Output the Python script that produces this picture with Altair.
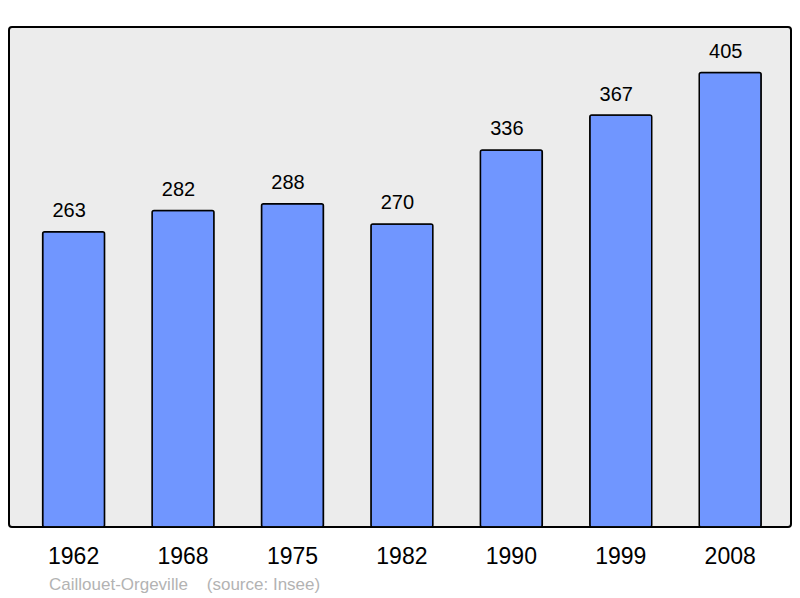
import altair as alt
import pandas as pd

years = ["1962", "1968", "1975", "1982", "1990", "1999", "2008"]
population = [263, 282, 288, 270, 336, 367, 405]
footer_text = "Caillouet-Orgeville\u00a0\u00a0\u00a0\u00a0(source: Insee)"

df = pd.DataFrame({"year": years, "pop": population})
FONT = "Liberation Sans"

x = alt.X("year:N", sort=years, title=None,
          scale=alt.Scale(paddingInner=0.434, paddingOuter=0.29, align=0.53),
          axis=alt.Axis(labelAngle=0, labelFontSize=23, labelFont=FONT, labelColor="black",
                        ticks=False, tickSize=0, domain=False, grid=False,
                        labelPadding=36, labelBaseline="alphabetic"))
y = alt.Y("pop:Q", title=None, scale=alt.Scale(domain=[0, max(population) * 1.1], nice=False, zero=True),
          axis=None)

base = alt.Chart(df)
bars = base.mark_bar(color="#7096ff", stroke="black", strokeWidth=1.5, cornerRadius=2).encode(x=x, y=y)
labels = base.mark_text(baseline="alphabetic", dy=-14.5, dx=-4.5, fontSize=20, font=FONT, color="black").encode(
    x=x, y=y, text="pop:Q")
footer = alt.Chart(pd.DataFrame({"t": [footer_text]})).mark_text(
    align="left", baseline="alphabetic", fontSize=17, font=FONT, color="#b3b3b3").encode(
    x=alt.value(40), y=alt.value(563), text="t:N")

chart = alt.layer(bars, labels, footer).properties(
    width=782, height=500,
    autosize=alt.AutoSizeParams(type="none"),
    padding={"left": 1, "top": 19, "right": 1, "bottom": 71},
).configure_view(
    fill="#ececec", stroke="black", strokeWidth=2, cornerRadius=3
)

chart.save("out.html", embed_options={"renderer": "svg", "actions": False})
